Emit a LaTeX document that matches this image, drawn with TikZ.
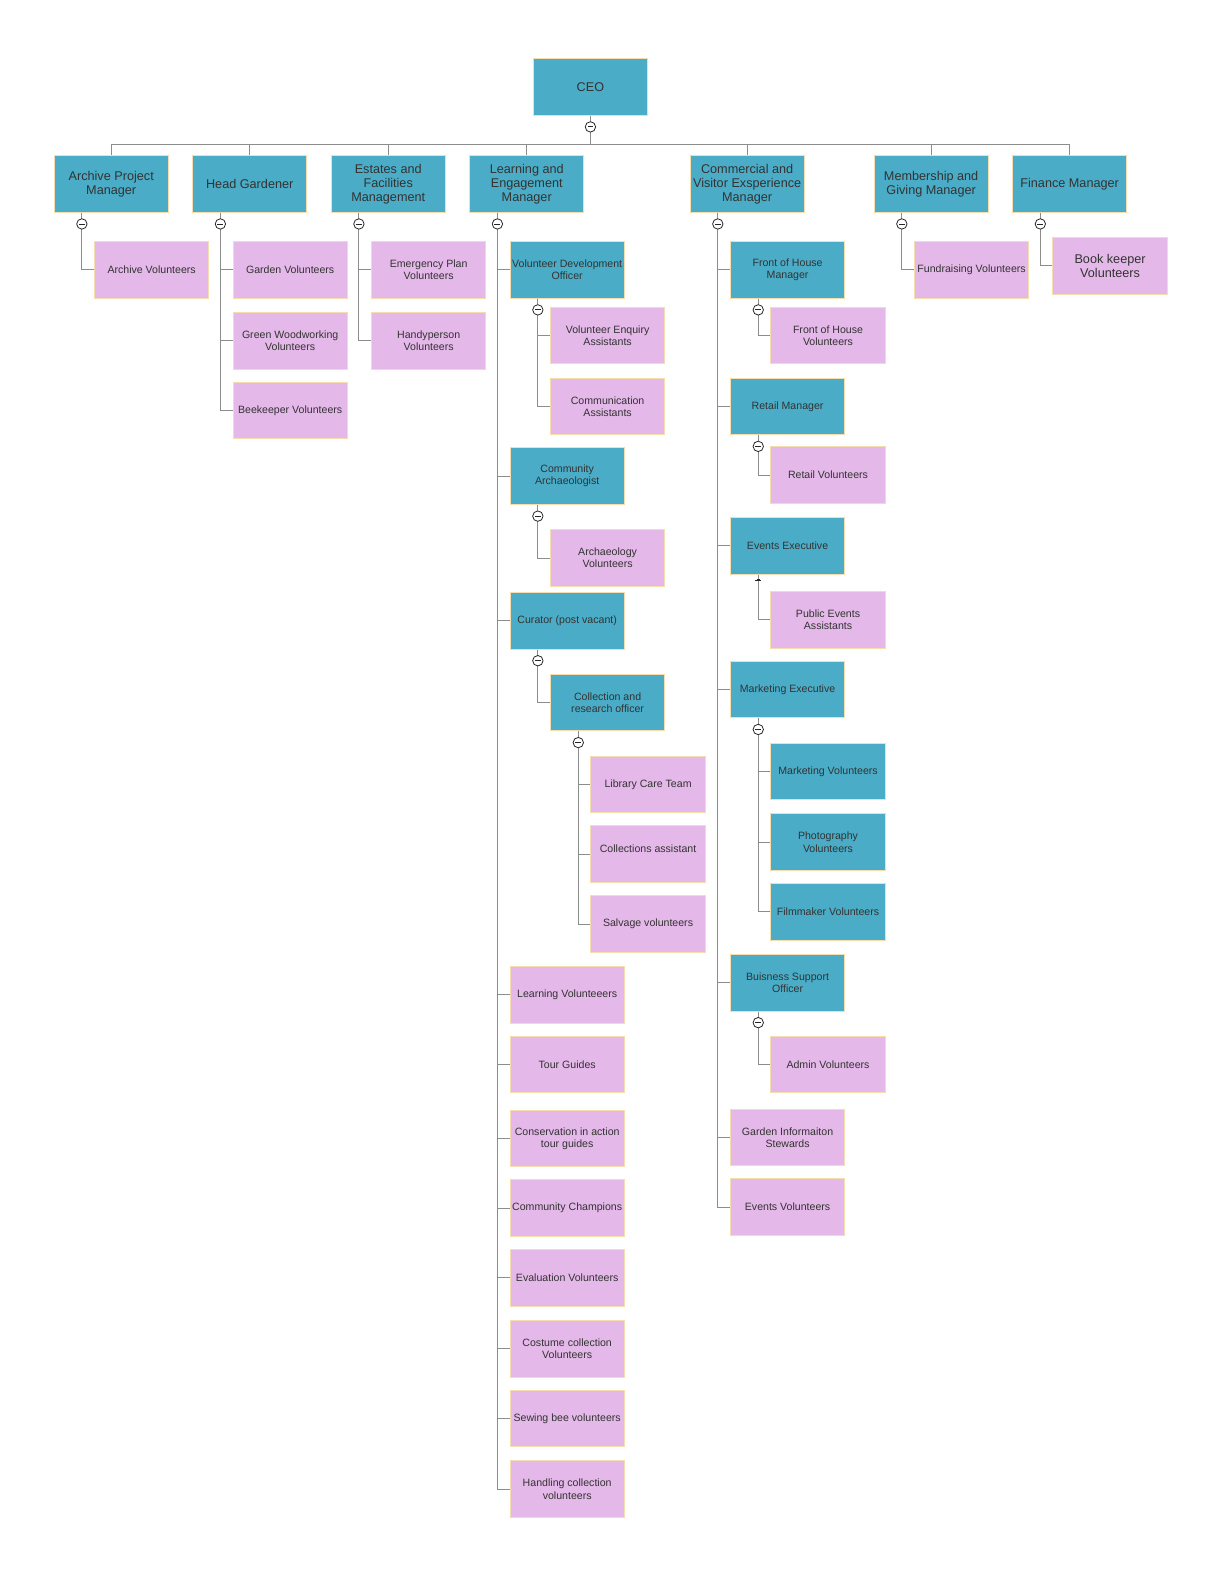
\documentclass[tikz,border=0pt]{standalone}
\usepackage{fontspec}
\setmainfont{Liberation Sans}
\usetikzlibrary{calc}
\definecolor{tealbox}{HTML}{4AACC6}
\definecolor{pinkbox}{HTML}{E4B8E8}
\definecolor{boxedge}{HTML}{F5DDB0}
\definecolor{txtgray}{HTML}{333333}
\definecolor{linegray}{HTML}{8C8C8C}
\tikzset{
  base/.style={rectangle, draw=boxedge, line width=0.75pt, minimum width=85.7pt,
    minimum height=42.5pt, inner sep=0pt, align=center, text=txtgray},
  topbox/.style={base, fill=tealbox, font=\fontsize{9.5}{10.6}\selectfont},
  tbox/.style={base, fill=tealbox, font=\fontsize{7.94}{9.1}\selectfont},
  pbox/.style={base, fill=pinkbox, font=\fontsize{7.94}{9.1}\selectfont},
  pbig/.style={base, fill=pinkbox, font=\fontsize{9.5}{10.6}\selectfont},
  conn/.style={draw=linegray, line width=0.75pt},
  toggle/.style={circle, draw=black!85, fill=white, line width=0.6pt, minimum size=7.8pt,
    inner sep=0pt, path picture={\draw[line width=0.6pt]
      ([xshift=-2.2pt]path picture bounding box.center) --
      ([xshift=2.2pt]path picture bounding box.center);}}
}
\newcommand\kids[2]{\foreach \c in {#2} {\draw[conn] ($(#1.south west)+(28,0)$) |- (\c.west);}}
\newcommand\tog[1]{\node[toggle] (tog-#1) at ($(#1.south west)+(28,11)$) {};}
\begin{document}
\begin{tikzpicture}[x=0.75825pt,y=-0.75825pt]
\useasboundingbox (0,0) rectangle (1195.85,1567.75);
\fill[white] (0,0) rectangle (1195.85,1567.75);

% top
\node[topbox] (ceo) at (584,86) {CEO};
\node[topbox] (apm) at (110,182) {Archive Project\\Manager};
\node[topbox] (hg)  at (247,182) {Head Gardener};
\node[topbox] (efm) at (384,182) {Estates and\\Facilities\\Management};
\node[topbox] (lem) at (521,182) {Learning and\\Engagement\\Manager};
\node[topbox] (cvm) at (739,182) {Commercial and\\Visitor Exsperience\\Manager};
\node[topbox] (mgm) at (921,182) {Membership and\\Giving Manager};
\node[topbox] (fm)  at (1058,182) {Finance Manager};

% archive / garden / estates
\node[pbox] (av)  at (150,267) {Archive Volunteers};
\node[pbox] (gv)  at (287,267) {Garden Volunteers};
\node[pbox] (gwv) at (287,337) {Green Woodworking\\Volunteers};
\node[pbox] (bv)  at (287,406) {Beekeeper Volunteers};
\node[pbox] (epv) at (424,267) {Emergency Plan\\Volunteers};
\node[pbox] (hv)  at (424,337) {Handyperson\\Volunteers};

% learning
\node[tbox] (vdo) at (561,267) {Volunteer Development\\Officer};
\node[pbox] (vea) at (601,332) {Volunteer Enquiry\\Assistants};
\node[pbox] (coa) at (601,402) {Communication\\Assistants};
\node[tbox] (ca)  at (561,471) {Community\\Archaeologist};
\node[pbox] (arv) at (601,552) {Archaeology\\Volunteers};
\node[tbox] (cur) at (561,614) {Curator (post vacant)};
\node[tbox] (cro) at (601,695) {Collection and\\research officer};
\node[pbox] (lct) at (641,776) {Library Care Team};
\node[pbox] (cas) at (641,845) {\raisebox{8pt}{Collections assistant}};
\node[pbox] (sv)  at (641,914) {Salvage volunteers};
\node[pbox] (lv)  at (561,984) {Learning Volunteeers};
\node[pbox] (tg)  at (561,1053) {Tour Guides};
\node[pbox] (cia) at (561,1126) {Conservation in action\\tour guides};
\node[pbox] (cc)  at (561,1195) {Community Champions};
\node[pbox] (evl) at (561,1264) {Evaluation Volunteers};
\node[pbox] (ccv) at (561,1334) {Costume collection\\Volunteers};
\node[pbox] (sbv) at (561,1403) {Sewing bee volunteers};
\node[pbox] (hcv) at (561,1473) {Handling collection\\volunteers};

% commercial
\node[tbox] (fohm) at (779,267) {Front of House\\Manager};
\node[pbox] (fohv) at (819,332) {Front of House\\Volunteers};
\node[tbox] (rm)   at (779,402) {Retail Manager};
\node[pbox] (rv)   at (819,470) {Retail Volunteers};
\node[tbox] (ee)   at (779,540) {Events Executive};
\node[pbox] (pea)  at (819,613) {Public Events\\Assistants};
\node[tbox] (me)   at (779,682) {Marketing Executive};
\node[tbox] (mv)   at (819,763) {Marketing Volunteers};
\node[tbox] (pv)   at (819,833) {Photography\\Volunteers};
\node[tbox] (fv)   at (819,902) {Filmmaker Volunteers};
\node[tbox] (bso)  at (779,972) {Buisness Support\\Officer};
\node[pbox] (adv)  at (819,1053) {Admin Volunteers};
\node[pbox] (gis)  at (779,1125) {Garden Informaiton\\Stewards};
\node[pbox] (evv)  at (779,1194) {Events Volunteers};

% membership / finance
\node[pbox] (frv) at (961,267) {Fundraising Volunteers};
\node[pbig] (bkv) at (1098,263) {Book keeper\\Volunteers};

% connectors
\coordinate (bus) at ($(ceo.south)+(0,28)$);
\draw[conn] (ceo.south) -- (bus);
\foreach \t in {apm,hg,efm,lem,cvm,mgm,fm} {\draw[conn] (bus) -| (\t.north);}

\kids{apm}{av}
\kids{hg}{gv,gwv,bv}
\kids{efm}{epv,hv}
\kids{lem}{vdo,ca,cur,lv,tg,cia,cc,evl,ccv,sbv,hcv}
\kids{vdo}{vea,coa}
\kids{ca}{arv}
\kids{cur}{cro}
\kids{cro}{lct,cas,sv}
\kids{cvm}{fohm,rm,ee,me,bso,gis,evv}
\kids{fohm}{fohv}
\kids{rm}{rv}
\kids{ee}{pea}
\kids{me}{mv,pv,fv}
\kids{bso}{adv}
\kids{mgm}{frv}
\kids{fm}{bkv}

% toggles
\node[toggle] (tog-ceo) at ($(ceo.south)+(0,11)$) {};
\tog{apm}\tog{hg}\tog{efm}\tog{lem}\tog{cvm}\tog{mgm}\tog{fm}
\tog{vdo}\tog{ca}\tog{cur}\tog{cro}
\tog{fohm}\tog{rm}\tog{me}\tog{bso}
\draw[black!85, line width=0.6pt] ($(ee.south west)+(25,6)$) -- ++(6,0);
\draw[black!85, line width=0.6pt] ($(ee.south west)+(26.5,5)$) -- ++(3,0);
\end{tikzpicture}
\end{document}
